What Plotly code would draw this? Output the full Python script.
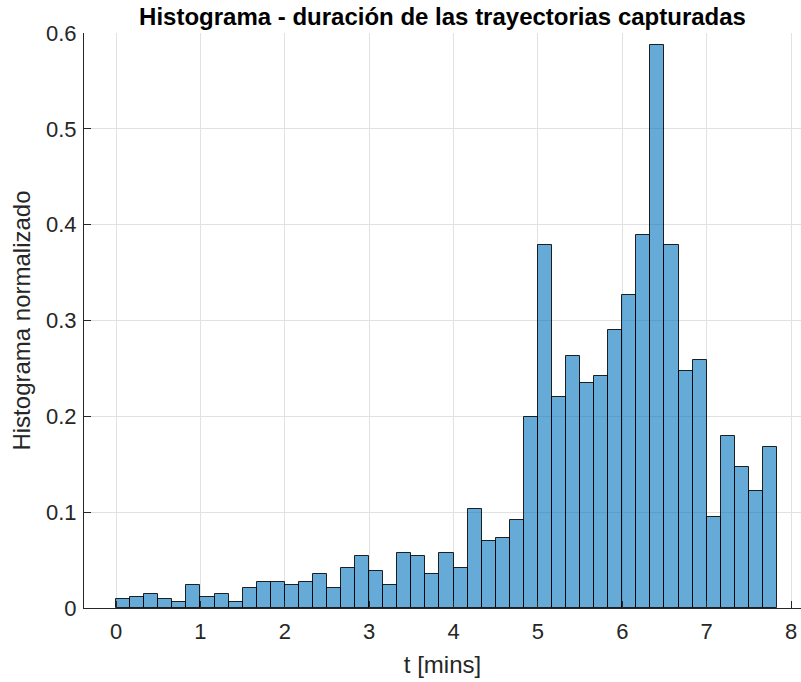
import plotly.graph_objects as go

# Histogram of captured trajectory durations (bin width = 10 s = 1/6 min)
bin_width = 1 / 6
bin_starts = [i * bin_width for i in range(47)]
density = [
    0.009, 0.012, 0.015, 0.009, 0.006, 0.024, 0.012, 0.015, 0.006, 0.021,
    0.027, 0.027, 0.024, 0.027, 0.036, 0.021, 0.042, 0.054, 0.039, 0.024,
    0.057, 0.054, 0.036, 0.057, 0.042, 0.103, 0.070, 0.073, 0.092, 0.199,
    0.379, 0.220, 0.263, 0.235, 0.242, 0.290, 0.327, 0.389, 0.588, 0.379,
    0.247, 0.259, 0.095, 0.180, 0.147, 0.122, 0.168,
]
x_ticks = [0, 1, 2, 3, 4, 5, 6, 7, 8]
y_ticks = [0, 0.1, 0.2, 0.3, 0.4, 0.5, 0.6]

bin_centers = [s + bin_width / 2 for s in bin_starts]

FONT = "Liberation Sans, Arial, Helvetica, sans-serif"
AXIS_COLOR = "#262626"
GRID_COLOR = "#e1e1e1"

fig = go.Figure(
    go.Bar(
        x=bin_centers,
        y=density,
        width=bin_width,
        marker=dict(
            color="rgba(0,114,189,0.6)",
            line=dict(color="rgba(0,0,0,0.85)", width=1),
        ),
        showlegend=False,
    )
)

fig.update_layout(
    width=801,
    height=682,
    margin=dict(l=84, r=0, t=33, b=74),
    paper_bgcolor="white",
    plot_bgcolor="white",
    bargap=0,
    font=dict(family=FONT, color=AXIS_COLOR, size=22),
    title=dict(
        text="<b>Histograma - duración de las trayectorias capturadas</b>",
        font=dict(family=FONT, size=24, color="black"),
        x=0.5,
        xref="paper",
        xanchor="center",
        y=1 - 17 / 682,
        yref="container",
        yanchor="middle",
    ),
)

fig.update_xaxes(
    range=[-0.38, 8.118],
    tickvals=x_ticks,
    ticktext=[str(v) for v in x_ticks],
    ticks="inside",
    ticklen=7,
    tickcolor=AXIS_COLOR,
    ticklabelstandoff=4,
    showline=True,
    linecolor=AXIS_COLOR,
    linewidth=1,
    showgrid=True,
    gridcolor=GRID_COLOR,
    gridwidth=1,
    zeroline=False,
    tickfont=dict(size=22, color=AXIS_COLOR),
    title=dict(text="t [mins]", font=dict(size=24, color=AXIS_COLOR), standoff=12),
)

fig.update_yaxes(
    range=[0, 0.6],
    tickvals=y_ticks,
    ticktext=["0", "0.1", "0.2", "0.3", "0.4", "0.5", "0.6"],
    ticks="inside",
    ticklen=7,
    tickcolor=AXIS_COLOR,
    ticklabelstandoff=2,
    showline=True,
    linecolor=AXIS_COLOR,
    linewidth=1,
    showgrid=True,
    gridcolor=GRID_COLOR,
    gridwidth=1,
    zeroline=False,
    tickfont=dict(size=22, color=AXIS_COLOR),
    title=dict(text="Histograma normalizado", font=dict(size=24, color=AXIS_COLOR), standoff=8),
)

fig.write_html("out.html")
